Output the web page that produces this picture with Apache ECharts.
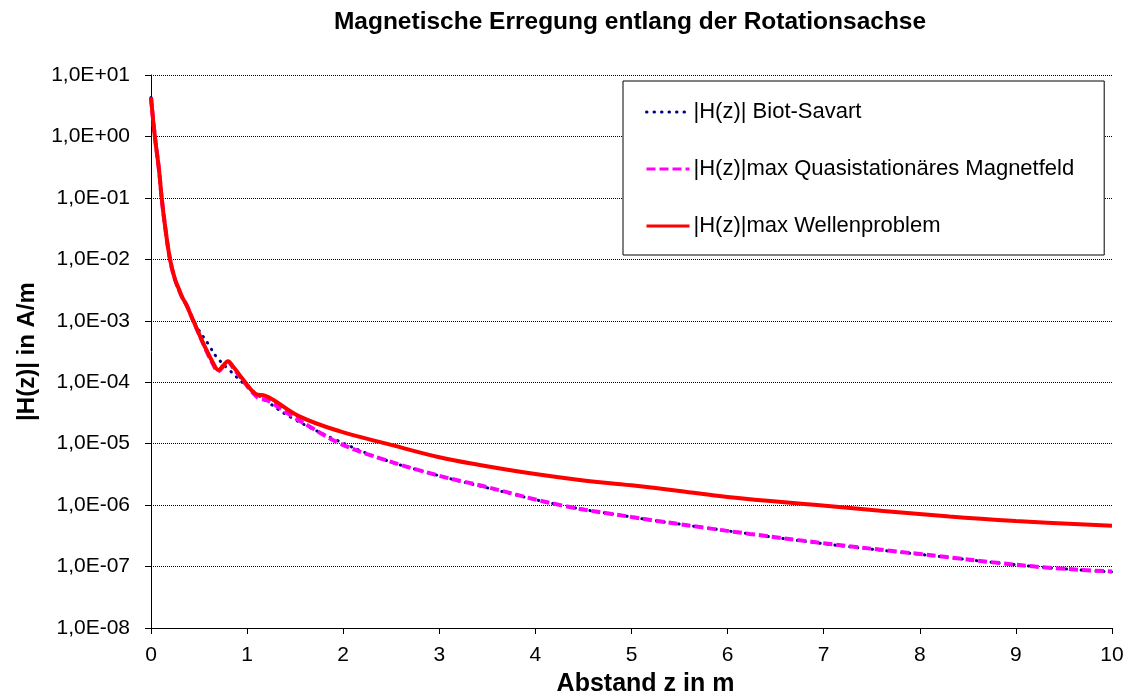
<!DOCTYPE html>
<html>
<head>
<meta charset="utf-8">
<script src="https://cdn.jsdelivr.net/npm/echarts@6/dist/echarts.min.js"></script>
<style>
html,body{margin:0;padding:0;background:#fff;}
#chart{width:1130px;height:695px;}
</style>
</head>
<body>
<div id="chart"></div>
<script>
// ---- data ----
const titleText = 'Magnetische Erregung entlang der Rotationsachse';
const xAxisName = 'Abstand z in m';
const yAxisName = '|H(z)| in A/m';
const seriesNames = ['|H(z)| Biot-Savart', '|H(z)|max Quasistationäres Magnetfeld', '|H(z)|max Wellenproblem'];
const yTickLabels = ['1,0E-08','1,0E-07','1,0E-06','1,0E-05','1,0E-04','1,0E-03','1,0E-02','1,0E-01','1,0E+00','1,0E+01'];

const zBiot = [0, 0.04, 0.083, 0.111, 0.146, 0.198, 0.25, 0.32, 0.37, 0.41, 0.5, 0.6, 0.68, 0.83, 1.0, 1.23, 1.46, 1.9, 2.41, 3.0, 3.42, 4.26, 5.0, 5.5, 6.23, 7.0, 8.0, 9.2, 10];
const hBiot = [4.3, 1.0, 0.29, 0.1, 0.035, 0.01, 4.7e-3, 2.5e-3, 1.8e-3, 1.3e-3, 7.0e-4, 4.1e-4, 2.6e-4, 1.5e-4, 8.5e-5, 4.6e-5, 2.66e-5, 1.2e-5, 5.6e-6, 3.0e-6, 2.05e-6, 1.0e-6, 6.4e-7, 4.9e-7, 3.4e-7, 2.35e-7, 1.58e-7, 1.0e-7, 8.2e-8];

const zQuasi = [0, 0.04, 0.083, 0.111, 0.146, 0.198, 0.25, 0.32, 0.37, 0.44, 0.56, 0.666, 0.70, 0.75, 0.80, 0.856, 0.96, 1.03, 1.12, 1.19, 1.26, 1.41, 1.65, 1.97, 2.41, 3.0, 3.42, 4.26, 5.0, 5.5, 6.23, 7.0, 8.0, 9.2, 10];
const hQuasi = [4.3, 1.0, 0.29, 0.1, 0.035, 0.01, 4.7e-3, 2.5e-3, 1.8e-3, 1.0e-3, 3.7e-4, 1.7e-4, 1.5e-4, 1.8e-4, 2.15e-4, 1.7e-4, 1.05e-4, 7.6e-5, 5.5e-5, 5.2e-5, 4.6e-5, 3.2e-5, 1.9e-5, 1.0e-5, 5.6e-6, 3.0e-6, 2.1e-6, 1.0e-6, 6.4e-7, 4.9e-7, 3.4e-7, 2.4e-7, 1.6e-7, 1.0e-7, 8.3e-8];

const zWave = [0, 0.04, 0.083, 0.111, 0.146, 0.198, 0.25, 0.29, 0.32, 0.37, 0.44, 0.56, 0.666, 0.70, 0.75, 0.80, 0.856, 0.96, 1.08, 1.19, 1.27, 1.55, 1.97, 2.45, 3.0, 3.42, 4.0, 4.46, 5.0, 5.5, 6.0, 6.93, 8.31, 9.0, 10];
const hWave = [4.3, 1.0, 0.29, 0.1, 0.035, 0.01, 4.7e-3, 3.3e-3, 2.5e-3, 1.8e-3, 1.0e-3, 3.8e-4, 1.8e-4, 1.58e-4, 1.85e-4, 2.2e-4, 1.78e-4, 1.1e-4, 6.6e-5, 6.0e-5, 5.2e-5, 2.75e-5, 1.58e-5, 1.0e-5, 6.0e-6, 4.5e-6, 3.2e-6, 2.57e-6, 2.1e-6, 1.7e-6, 1.35e-6, 1.0e-6, 6.5e-7, 5.5e-7, 4.6e-7];

function pairs(xs, ys) { return xs.map((x, i) => [x, ys[i]]); }

const FONT = '"Liberation Sans", Arial, sans-serif';
const chart = echarts.init(document.getElementById('chart'), null, {renderer: 'canvas'});

chart.setOption({
  animation: false,
  backgroundColor: '#fff',
  title: {
    text: titleText,
    left: 630,
    textAlign: 'center',
    top: 10,
    padding: 0,
    textStyle: {fontFamily: FONT, fontWeight: 'bold', fontSize: 24.5, color: '#000'}
  },
  legend: {
    orient: 'vertical',
    left: 623,
    top: 81,
    padding: [20, 30, 18, 22],
    itemGap: 35,
    itemWidth: 43,
    itemHeight: 14,
    backgroundColor: '#fff',
    borderColor: '#000',
    borderWidth: 1,
    borderRadius: 0,
    itemStyle: {opacity: 0, borderWidth: 0},
    lineStyle: {width: 3},
    textStyle: {fontFamily: FONT, fontSize: 22, color: '#000', padding: [0, 0, 0, -1]},
    data: seriesNames
  },
  grid: {left: 151, right: 18, top: 75, bottom: 67, containLabel: false, outerBoundsMode: 'none'},
  xAxis: {
    type: 'value',
    min: 0,
    max: 10,
    interval: 1,
    name: xAxisName,
    nameLocation: 'middle',
    nameGap: 44,
    nameTextStyle: {fontFamily: FONT, fontWeight: 'bold', fontSize: 25, color: '#000', padding: [0, 0, 0, 28]},
    axisLine: {show: true, onZero: false, lineStyle: {color: '#000', width: 1}},
    axisTick: {show: true, inside: false, length: 6, lineStyle: {color: '#000'}},
    axisLabel: {fontFamily: FONT, fontSize: 21, color: '#000', margin: 17},
    splitLine: {show: false}
  },
  yAxis: {
    type: 'log',
    logBase: 10,
    min: 1e-8,
    max: 10,
    interval: 1,
    name: yAxisName,
    nameLocation: 'middle',
    nameGap: 112,
    nameTextStyle: {fontFamily: FONT, fontWeight: 'bold', fontSize: 24, color: '#000'},
    axisLine: {show: true, lineStyle: {color: '#000', width: 1}},
    axisTick: {show: true, inside: false, length: 6, lineStyle: {color: '#000'}},
    axisLabel: {
      fontFamily: FONT, fontSize: 21, color: '#000', margin: 21,
      formatter: function (v) {
        const idx = Math.round(Math.log10(v)) + 8;
        return yTickLabels[idx] !== undefined ? yTickLabels[idx] : '';
      }
    },
    splitLine: {show: true, lineStyle: {color: '#000', width: 1, type: [1, 1]}},
    minorTick: {show: false}
  },
  series: [
    {
      name: seriesNames[0],
      type: 'line',
      data: pairs(zBiot, hBiot),
      symbol: 'none',
      smooth: 0.4,
      lineStyle: {color: '#000080', width: 3, type: [0.5, 7], cap: 'round'},
      itemStyle: {color: '#000080'},
      z: 2
    },
    {
      name: seriesNames[1],
      type: 'line',
      data: pairs(zQuasi, hQuasi),
      symbol: 'none',
      smooth: 0.4,
      lineStyle: {color: '#FF00FF', width: 4, type: [9, 4]},
      itemStyle: {color: '#FF00FF'},
      z: 3
    },
    {
      name: seriesNames[2],
      type: 'line',
      data: pairs(zWave, hWave),
      symbol: 'none',
      smooth: 0.4,
      lineStyle: {color: '#FF0000', width: 4},
      itemStyle: {color: '#FF0000'},
      z: 4
    }
  ]
});
</script>
</body>
</html>
